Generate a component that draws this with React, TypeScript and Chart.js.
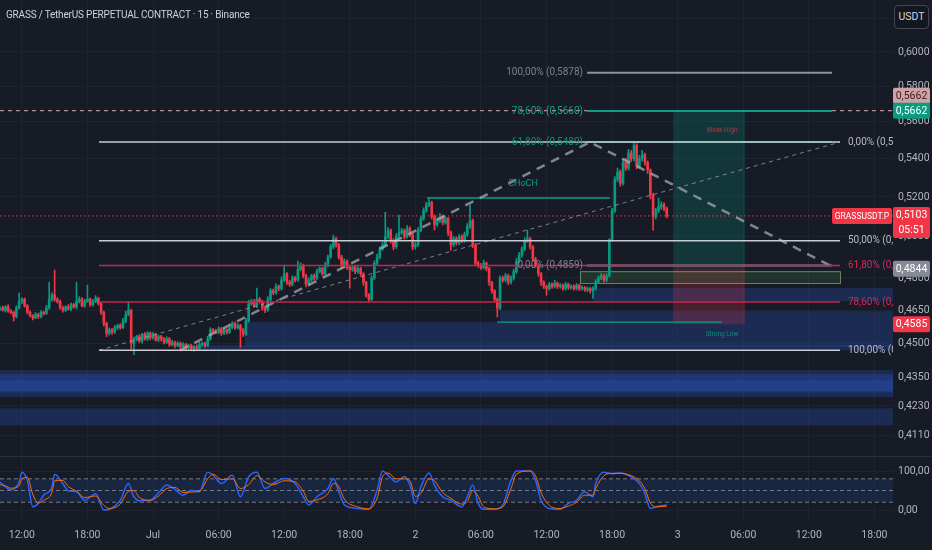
import React, { useEffect, useRef } from 'react';
import { Chart, registerables } from 'chart.js';
Chart.register(...registerables);

// ---------- data ----------
const TITLE = 'GRASS / TetherUS PERPETUAL CONTRACT · 15 · Binance';
const CANDLE_START_HOUR = -14; // hours relative to Jul 1 00:00
const CANDLE_STEP = 0.25; // 15 minutes
const firstOpen = 4655; // price x 1e-4
const closes = [
  4660, 4650, 4665, 4645, 4640, 4620, 4660, 4690, 4700, 4670,
  4640, 4625, 4615, 4630, 4620, 4640, 4635, 4660, 4700, 4720,
  4700, 4690, 4660, 4650, 4665, 4655, 4675, 4665, 4690, 4700,
  4670, 4690, 4700, 4675, 4690, 4705, 4680, 4640, 4590, 4545,
  4560, 4550, 4570, 4580, 4570, 4600, 4630, 4650, 4500, 4520,
  4530, 4510, 4540, 4520, 4545, 4525, 4540, 4515, 4530, 4520,
  4505, 4520, 4495, 4505, 4490, 4500, 4485, 4495, 4480, 4490,
  4475, 4485, 4478, 4495, 4500, 4490, 4520, 4560, 4555, 4550,
  4565, 4545, 4560, 4550, 4570, 4590, 4570, 4580, 4560, 4540,
  4600, 4680, 4690, 4670, 4700, 4690, 4660, 4650, 4700, 4740,
  4730, 4760, 4750, 4790, 4820, 4780, 4770, 4800, 4790, 4840,
  4860, 4810, 4770, 4790, 4810, 4800, 4830, 4845, 4820, 4860,
  4900, 4950, 4990, 4960, 4900, 4860, 4880, 4850, 4840, 4850,
  4830, 4845, 4820, 4780, 4720, 4700, 4800, 4870, 4900, 4940,
  4960, 5000, 5030, 4980, 4950, 5000, 5020, 5030, 5000, 5040,
  5010, 4950, 4960, 5030, 5090, 5130, 5160, 5170, 5100, 5060,
  5080, 5100, 5070, 5090, 5020, 4960, 4990, 4970, 5000, 4980,
  5010, 5050, 5080, 4960, 4870, 4860, 4850, 4870, 4845, 4780,
  4740, 4700, 4660, 4800, 4790, 4810, 4780, 4800, 4830, 4880,
  4910, 4940, 4980, 4990, 4950, 4890, 4860, 4820, 4780, 4760,
  4750, 4770, 4760, 4775, 4760, 4765, 4750, 4770, 4755, 4760,
  4750, 4765, 4750, 4755, 4745, 4750, 4740, 4750, 4780, 4800,
  4810, 4790, 4810, 4985, 5130, 5290, 5330, 5270, 5380, 5350,
  5430, 5400, 5470, 5360, 5400, 5420, 5380, 5340, 5210, 5100,
  5130, 5150, 5160, 5140, 5103,
];
const wickUp = [
  6, 8, 5, 10, 7, 4, 9, 39, 8, 6,
  5, 7, 4, 9, 6, 8, 5, 12, 80, 10,
  118, 8, 6, 9, 5, 10, 7, 6, 90, 12,
  8, 10, 66, 6, 9, 12, 5, 4, 6, 5,
  9, 7, 10, 6, 8, 12, 15, 40, 5, 8,
  6, 9, 5, 8, 7, 6, 9, 5, 8, 6,
  5, 9, 6, 8, 5, 7, 6, 8, 5, 7,
  6, 5, 8, 9, 6, 5, 12, 10, 6, 8,
  9, 6, 8, 5, 10, 7, 6, 9, 5, 6,
  12, 15, 10, 8, 52, 9, 6, 8, 12, 10,
  8, 12, 7, 15, 41, 6, 9, 10, 8, 41,
  12, 6, 8, 10, 7, 9, 12, 8, 6, 15,
  10, 12, 17, 8, 6, 9, 12, 7, 5, 10,
  8, 9, 6, 5, 4, 6, 10, 12, 15, 10,
  12, 121, 15, 8, 10, 14, 87, 12, 8, 15,
  10, 6, 12, 15, 10, 14, 12, 24, 8, 9,
  12, 15, 8, 10, 6, 9, 12, 8, 10, 9,
  12, 15, 78, 8, 6, 10, 9, 16, 6, 5,
  4, 5, 6, 10, 9, 12, 8, 10, 12, 14,
  12, 10, 15, 42, 8, 6, 9, 5, 6, 8,
  6, 9, 7, 15, 6, 8, 7, 10, 6, 8,
  7, 9, 6, 8, 5, 7, 6, 9, 12, 10,
  12, 8, 10, 5, 12, 15, 20, 10, 18, 22,
  20, 15, 19, 10, 18, 25, 10, 8, 6, 10,
  12, 44, 15, 10, 8,
];
const wickDn = [
  7, 5, 9, 6, 8, 20, 6, 5, 10, 7,
  8, 6, 10, 5, 9, 6, 8, 5, 7, 9,
  10, 8, 6, 9, 7, 5, 8, 6, 9, 7,
  6, 8, 5, 9, 7, 6, 8, 10, 12, 15,
  8, 10, 6, 9, 7, 5, 8, 6, 25, 50,
  9, 7, 10, 6, 8, 9, 7, 6, 8, 10,
  8, 6, 9, 7, 10, 6, 8, 7, 9, 6,
  8, 10, 7, 6, 9, 8, 5, 6, 9, 7,
  8, 10, 6, 9, 7, 5, 8, 6, 78, 10,
  5, 6, 8, 7, 9, 8, 10, 12, 6, 8,
  9, 7, 10, 8, 6, 12, 10, 8, 9, 7,
  6, 10, 12, 8, 7, 10, 8, 6, 9, 7,
  8, 6, 9, 12, 10, 15, 8, 10, 88, 9,
  10, 8, 12, 15, 10, 14, 6, 8, 10, 9,
  8, 10, 9, 12, 15, 8, 10, 9, 12, 8,
  10, 15, 12, 8, 6, 9, 8, 10, 12, 28,
  10, 9, 12, 8, 15, 26, 10, 12, 9, 10,
  8, 9, 10, 15, 12, 10, 9, 8, 12, 15,
  12, 10, 42, 8, 10, 9, 12, 8, 10, 9,
  8, 10, 9, 8, 12, 10, 9, 12, 15, 10,
  31, 8, 9, 7, 10, 8, 9, 7, 10, 8,
  9, 7, 10, 8, 9, 10, 12, 35, 8, 6,
  8, 10, 9, 6, 8, 10, 12, 15, 10, 12,
  10, 15, 12, 15, 10, 12, 14, 18, 20, 68,
  12, 10, 14, 12, 10,
];

const priceTicks = [0.62, 0.6, 0.58, 0.56, 0.54, 0.52, 0.5, 0.48, 0.465, 0.45, 0.435, 0.423, 0.411];
const timeTicks = [-12, -6, 0, 6, 12, 18, 24, 30, 36, 42, 48, 54, 60, 66];
const timeLabels = ['12:00', '18:00', 'Jul', '06:00', '12:00', '18:00', '2', '06:00', '12:00', '18:00', '3', '06:00', '12:00', '18:00'];
const X_MIN = -14;
const X_MAX = 67.7;
const Y_MIN = 0.4026;
const Y_MAX = 0.6316;

// Fibonacci retracement (left) and (right)
const fibLeftNames = ['0,00%', '50,00%', '61,80%', '78,60%', '100,00%'];
const fibLeftPrices = [0.5489, 0.4979, 0.4859, 0.4687, 0.4469];
const fibLeftSpan = [-4.94, 62.85];
const fibRightNames = ['100,00%', '78,60%', '61,80%', '0,00%'];
const fibRightPrices = [0.5878, 0.566, 0.5489, 0.4859];
const fibRightSpan = [39.71, 62.12];

// trend lines (hour, price)
const trendThinTimes = [-4.94, 62.85];
const trendThinPrices = [0.4469, 0.5489];
const trendThickTimes = [2.47, 39.98, 61.94];
const trendThickPrices = [0.4469, 0.5489, 0.4859];

// price levels
const alertPrice = 0.5662;
const lastPrice = 0.5103;
const targetPrice = 0.5662;
const entryPrice = 0.4844;
const stopPrice = 0.4585;
const positionSpan = [47.58, 54.16];
const countdown = '05:51';
const symbolTag = 'GRASSUSDT.P';

// blue demand zones
const zoneFrom = [8.4, 4.3, 31.75, 40.2, -14, -14, -14, -14];
const zoneTo = [70, 70, 70, 70, 70, 70, 70, 70];
const zoneHigh = [0.4595, 0.4492, 0.4645, 0.4752, 0.4382, 0.4365, 0.4339, 0.422];
const zoneLow = [0.4483, 0.4469, 0.4595, 0.4691, 0.4267, 0.4287, 0.4292, 0.415];

// order block
const obSpan = [39.07, 62.85];
const obHigh = 0.4832;
const obLow = 0.4776;

// structure
const chochSpan = [25.07, 41.8];
const chochPrice = 0.5194;
const chochLabelTime = 33.85;
const weakHighSpan = [44.19, 52.06];
const weakHighPrice = 0.5489;
const strongLowSpan = [31.47, 52.06];
const strongLowPrice = 0.4595;

// stochastic RSI
const stochIdx = [0, 2, 4, 7, 8, 10, 12, 14, 16, 19, 20, 23, 25, 28, 31, 35, 38, 40, 44, 47, 49, 51, 55, 58, 61, 64, 67, 70, 73, 76, 78, 81, 85, 88, 91, 94, 97, 100, 104, 108, 111, 113, 116, 120, 122, 124, 126, 131, 135, 138, 140, 142, 145, 148, 150, 152, 154, 157, 159, 162, 165, 169, 171, 173, 175, 177, 181, 184, 187, 189, 194, 196, 198, 201, 205, 208, 211, 214, 217, 218, 221, 224, 227, 231, 234, 236, 238, 240, 244];
const stochK = [72, 59, 52, 72, 97, 76, 8, 17, 38, 59, 92, 68, 49, 47, 25, 42, 0, 2, 25, 68, 34, 24, 25, 44, 64, 53, 38, 51, 47, 97, 89, 68, 89, 34, 85, 97, 55, 68, 81, 68, 34, 13, 34, 55, 81, 47, 13, 4, 2, 51, 100, 89, 72, 86, 64, 17, 59, 95, 64, 34, 25, 8, 34, 64, 17, 2, 2, 13, 76, 100, 100, 76, 25, 4, 2, 17, 25, 47, 34, 68, 97, 93, 95, 85, 68, 42, 4, 8, 13];
const stochD = [65, 62, 56, 62, 80, 84, 40, 18, 25, 45, 75, 76, 60, 48, 32, 36, 12, 4, 15, 48, 50, 32, 25, 36, 55, 58, 45, 46, 48, 80, 92, 78, 80, 55, 65, 88, 72, 65, 75, 72, 48, 22, 26, 42, 68, 60, 28, 8, 3, 30, 85, 95, 80, 80, 75, 35, 42, 80, 75, 45, 30, 15, 22, 50, 35, 8, 3, 8, 55, 92, 100, 88, 45, 12, 4, 10, 20, 38, 38, 55, 88, 94, 94, 88, 75, 55, 18, 8, 10];
const stochLevels = [80, 50, 20];
const stochTicks = [0, 100];

// ---------- styles ----------
const BG = '#171b26';
const GRID = '#1f2330';
const TXT = '#b2b5be';
const UP = '#089981';
const DOWN = '#f23645';
const FONT = 'Roboto, sans-serif';
const TICK_SIZE = 10.5;
const fibLeftColors = ['#c9cbd2', '#c9cbd2', '#c8244f', '#c8244f', '#c9cbd2'];
const fibLeftText = ['#b8bac2', '#b8bac2', '#d6285a', '#d6285a', '#b8bac2'];
const fibRightColors = ['#8f929b', '#0c9f86', '#0c9f86', '#8f929b'];
const fibRightText = ['#7d808a', '#13a68b', '#0f8f77', '#7d808a'];
const AXIS_W = 39;

const fmt4 = (v: number) => v.toFixed(4).replace('.', ',');
const fmt2 = (v: number) => v.toFixed(2).replace('.', ',');

const seg = (xs: number[], ys: number[]) => xs.map((x, i) => ({ x, y: ys[i] }));
const lineDs = (data: any[], color: string, width: number, dash: number[] = [], order = 0) => ({
  type: 'line', data, borderColor: color, borderWidth: width, borderDash: dash,
  pointRadius: 0, fill: false, order, tension: 0,
});
const noPad = (s: any) => { s.paddingTop = 0; s.paddingBottom = 0; s.paddingLeft = 0; s.paddingRight = 0; };

function drawTag(ctx: CanvasRenderingContext2D, x: number, top: number, w: number, h: number, bg: string, fg: string, lines: string[], size = TICK_SIZE) {
  ctx.save();
  ctx.fillStyle = bg;
  ctx.beginPath();
  (ctx as any).roundRect ? (ctx as any).roundRect(x, top, w, h, 2) : ctx.rect(x, top, w, h);
  ctx.fill();
  ctx.fillStyle = fg;
  ctx.font = `${size}px ${FONT}`;
  ctx.textAlign = 'center';
  ctx.textBaseline = 'middle';
  const lh = h / lines.length;
  lines.forEach((l, i) => ctx.fillText(l, x + w / 2, top + lh * i + lh / 2 + 0.5));
  ctx.restore();
}

const overlayPlugin = {
  id: 'overlays',
  beforeDatasetsDraw(chart: any) {
    const { ctx, chartArea: a, scales } = chart;
    const X = (t: number) => scales.x.getPixelForValue(t);
    const Y = (p: number) => scales.y.getPixelForValue(p);
    ctx.save();
    ctx.beginPath();
    ctx.rect(a.left, a.top, a.right - a.left, a.bottom - a.top);
    ctx.clip();
    zoneFrom.forEach((f, i) => {
      const x0 = X(f), x1 = X(zoneTo[i]);
      const y0 = Y(zoneHigh[i]), y1 = Y(zoneLow[i]);
      ctx.fillStyle = 'rgba(41, 90, 210, 0.26)';
      ctx.fillRect(x0, y0, x1 - x0, y1 - y0);
    });
    const p0 = X(positionSpan[0]), p1 = X(positionSpan[1]);
    ctx.fillStyle = 'rgba(8, 153, 129, 0.22)';
    ctx.fillRect(p0, Y(targetPrice), p1 - p0, Y(entryPrice) - Y(targetPrice));
    ctx.fillStyle = 'rgba(242, 54, 69, 0.22)';
    ctx.fillRect(p0, Y(entryPrice), p1 - p0, Y(stopPrice) - Y(entryPrice));
    const o0 = X(obSpan[0]), o1 = X(obSpan[1]);
    ctx.fillStyle = 'rgba(76, 175, 80, 0.16)';
    ctx.fillRect(o0, Y(obHigh), o1 - o0, Y(obLow) - Y(obHigh));
    ctx.strokeStyle = 'rgba(165, 214, 167, 0.55)';
    ctx.lineWidth = 1;
    ctx.strokeRect(o0 + 0.5, Y(obHigh) + 0.5, o1 - o0, Y(obLow) - Y(obHigh));
    ctx.restore();
  },
  afterDatasetsDraw(chart: any) {
    const { ctx, chartArea: a, scales } = chart;
    const X = (t: number) => scales.x.getPixelForValue(t);
    const Y = (p: number) => scales.y.getPixelForValue(p);
    ctx.save();
    ctx.beginPath();
    ctx.rect(a.left, a.top, a.right - a.left, a.bottom - a.top);
    ctx.clip();
    ctx.textBaseline = 'middle';
    ctx.font = `10px ${FONT}`;
    ctx.textAlign = 'left';
    fibLeftPrices.forEach((p, i) => {
      ctx.fillStyle = fibLeftText[i];
      ctx.fillText(`${fibLeftNames[i]} (${fmt4(p)})`, X(fibLeftSpan[1]) + 8, Y(p));
    });
    ctx.textAlign = 'right';
    fibRightPrices.forEach((p, i) => {
      ctx.fillStyle = fibRightText[i];
      ctx.fillText(`${fibRightNames[i]} (${fmt4(p)})`, X(fibRightSpan[0]) - 4, Y(p));
    });
    ctx.textAlign = 'center';
    ctx.font = `9px ${FONT}`;
    ctx.fillStyle = '#0c9f86';
    ctx.fillText('CHoCH', X(chochLabelTime), Y(chochPrice) - 14);
    ctx.font = `6.5px ${FONT}`;
    ctx.fillStyle = '#c2303f';
    ctx.fillText('Weak High', X(weakHighSpan[1]), Y(weakHighPrice) - 12);
    ctx.fillStyle = '#0c8f7a';
    ctx.fillText('Strong Low', X(strongLowSpan[1]), Y(strongLowPrice) + 12);
    ctx.restore();
  },
  afterDraw(chart: any) {
    const { ctx, chartArea: a, scales } = chart;
    const Y = (p: number) => scales.y.getPixelForValue(p);
    const x = a.right;
    const w = AXIS_W - 2;
    drawTag(ctx, x, Y(alertPrice) - 23, w, 16, '#cfa3a3', '#3b1a1c', [fmt4(alertPrice)]);
    drawTag(ctx, x, Y(targetPrice) - 8, w, 16, '#0a9c80', '#ffffff', [fmt4(targetPrice)]);
    drawTag(ctx, x - 61, Y(lastPrice) - 8, 60, 16, DOWN, '#ffffff', [symbolTag], 8.5);
    drawTag(ctx, x, Y(lastPrice) - 9, w, 31, DOWN, '#ffffff', [fmt4(lastPrice), countdown]);
    drawTag(ctx, x, Y(entryPrice) - 8, w, 16, '#868a94', '#ffffff', [fmt4(entryPrice)]);
    drawTag(ctx, x, Y(stopPrice) - 8, w, 16, DOWN, '#ffffff', [fmt4(stopPrice)]);
  },
};

const stochPlugin = {
  id: 'stochSep',
  afterDraw(chart: any) {
    const { ctx } = chart;
    ctx.save();
    ctx.strokeStyle = '#2a2e39';
    ctx.lineWidth = 1;
    ctx.beginPath();
    ctx.moveTo(0, 0.5);
    ctx.lineTo(chart.width, 0.5);
    ctx.stroke();
    ctx.restore();
  },
};

export default function App() {
  const mainRef = useRef<HTMLCanvasElement>(null);
  const stochRef = useRef<HTMLCanvasElement>(null);

  useEffect(() => {
    document.body.style.margin = '0';
    document.body.style.background = BG;
    Chart.defaults.font.family = FONT;

    const candleX = closes.map((_, i) => CANDLE_START_HOUR + i * CANDLE_STEP);
    const opens = closes.map((c, i) => (i === 0 ? firstOpen : closes[i - 1]));
    const colors = closes.map((c, i) => (c >= opens[i] ? UP : DOWN));
    const bodies = closes.map((c, i) => ({ x: candleX[i], y: [opens[i] / 1e4, c / 1e4] }));
    const wicks = closes.map((c, i) => ({
      x: candleX[i],
      y: [(Math.min(opens[i], c) - wickDn[i]) / 1e4, (Math.max(opens[i], c) + wickUp[i]) / 1e4],
    }));

    const lines: any[] = [];
    fibLeftPrices.forEach((p, i) => lines.push(lineDs(seg(fibLeftSpan, [p, p]), fibLeftColors[i], 1.5)));
    fibRightPrices.forEach((p, i) => lines.push(lineDs(seg(fibRightSpan, [p, p]), fibRightColors[i], 2)));
    lines.push(lineDs(seg(trendThinTimes, trendThinPrices), 'rgba(160,163,172,0.75)', 1, [4, 4]));
    lines.push(lineDs(seg(trendThickTimes, trendThickPrices), 'rgba(175,178,186,0.7)', 2.5, [9, 7]));
    lines.push(lineDs(seg([X_MIN, X_MAX], [alertPrice, alertPrice]), '#e3a7a7', 1, [4, 4]));
    lines.push(lineDs(seg([X_MIN, X_MAX], [lastPrice, lastPrice]), DOWN, 1, [1.5, 2.5]));
    lines.push(lineDs(seg(chochSpan, [chochPrice, chochPrice]), '#0c9f86', 1.5));
    lines.push(lineDs(seg(weakHighSpan, [weakHighPrice, weakHighPrice]), '#d3454f', 1.5));
    lines.push(lineDs(seg(strongLowSpan, [strongLowPrice, strongLowPrice]), '#0c9f86', 1.2));

    const main = new Chart(mainRef.current!, {
      type: 'line',
      data: {
        datasets: [
          ...lines,
          { type: 'bar', data: bodies, backgroundColor: colors, borderWidth: 0, barThickness: 2, grouped: false, minBarLength: 1, order: 5 },
          { type: 'bar', data: wicks, backgroundColor: colors, borderWidth: 0, barThickness: 1, grouped: false, order: 6 },
        ] as any,
      },
      options: {
        animation: false,
        responsive: true,
        maintainAspectRatio: false,
        events: [],
        layout: { padding: 0 },
        plugins: { legend: { display: false }, tooltip: { enabled: false } },
        scales: {
          x: {
            type: 'linear', min: X_MIN, max: X_MAX, offset: false,
            afterBuildTicks: (s: any) => { s.ticks = timeTicks.map((v) => ({ value: v })); },
            afterFit: (s: any) => { s.height = 0; noPad(s); },
            grid: { color: GRID, drawTicks: false, offset: false },
            border: { display: false },
            ticks: { display: false },
          },
          y: {
            type: 'logarithmic', position: 'right', min: Y_MIN, max: Y_MAX, bounds: 'data',
            afterBuildTicks: (s: any) => { s.ticks = priceTicks.map((v) => ({ value: v })); },
            afterFit: (s: any) => { s.width = AXIS_W; noPad(s); },
            grid: { color: GRID, drawTicks: false },
            border: { display: false },
            ticks: { color: TXT, font: { size: TICK_SIZE }, padding: 5, callback: (v: any) => fmt4(Number(v)) },
          },
        } as any,
      },
      plugins: [overlayPlugin],
    });

    const stX = stochIdx.map((k) => CANDLE_START_HOUR + k * CANDLE_STEP);
    const stoch = new Chart(stochRef.current!, {
      type: 'line',
      data: {
        datasets: [
          { data: seg([X_MIN, X_MAX], [stochLevels[0], stochLevels[0]]), borderWidth: 0, pointRadius: 0, fill: { value: stochLevels[2] }, backgroundColor: 'rgba(33,120,243,0.12)', order: 9 },
          ...stochLevels.map((l) => lineDs(seg([X_MIN, X_MAX], [l, l]), '#787b86', 1, [4, 3], 5)),
          { data: seg(stX, stochK), borderColor: '#2962ff', borderWidth: 1.5, pointRadius: 0, fill: false, cubicInterpolationMode: 'monotone', order: 2 },
          { data: seg(stX, stochD), borderColor: '#ff6d00', borderWidth: 1, pointRadius: 0, fill: false, cubicInterpolationMode: 'monotone', order: 1 },
        ] as any,
      },
      options: {
        animation: false,
        responsive: true,
        maintainAspectRatio: false,
        events: [],
        layout: { padding: 0 },
        plugins: { legend: { display: false }, tooltip: { enabled: false } },
        scales: {
          x: {
            type: 'linear', min: X_MIN, max: X_MAX, offset: false,
            afterBuildTicks: (s: any) => { s.ticks = timeTicks.map((v) => ({ value: v })); },
            afterFit: (s: any) => { s.height = 30; noPad(s); },
            grid: { color: GRID, drawTicks: false, offset: false },
            border: { display: false },
            ticks: {
              color: TXT, font: { size: TICK_SIZE }, padding: 9, maxRotation: 0, autoSkip: false,
              callback: (v: any) => timeLabels[timeTicks.indexOf(Number(v))] ?? '',
            },
          },
          y: {
            type: 'linear', position: 'right', min: -25.6, max: 138.5,
            afterBuildTicks: (s: any) => { s.ticks = stochTicks.map((v) => ({ value: v })); },
            afterFit: (s: any) => { s.width = AXIS_W; noPad(s); },
            grid: { color: GRID, drawTicks: false },
            border: { display: false },
            ticks: { color: TXT, font: { size: TICK_SIZE }, padding: 5, callback: (v: any) => fmt2(Number(v)) },
          },
        } as any,
      },
      plugins: [stochPlugin],
    });

    return () => {
      main.destroy();
      stoch.destroy();
    };
  }, []);

  return (
    <div style={{ position: 'relative', width: 932, height: 550, background: BG, overflow: 'hidden', fontFamily: FONT }}>
      <div style={{ position: 'absolute', left: 0, top: 0, width: 932, height: 456 }}>
        <canvas ref={mainRef} />
      </div>
      <div style={{ position: 'absolute', left: 0, top: 456, width: 932, height: 94 }}>
        <canvas ref={stochRef} />
      </div>
      <div style={{ position: 'absolute', left: 6, top: 9, fontSize: 10, letterSpacing: -0.2, color: '#cfd2da', whiteSpace: 'nowrap', pointerEvents: 'none' }}>
        {TITLE}
      </div>
      <div style={{
        position: 'absolute', left: 894, top: 5, width: 33, height: 22, border: '1px solid #434651', borderRadius: 4,
        background: '#131722', color: '#d1d4dc', fontSize: 10.5, lineHeight: '22px', textAlign: 'center',
      }}>
        USDT
      </div>
    </div>
  );
}
